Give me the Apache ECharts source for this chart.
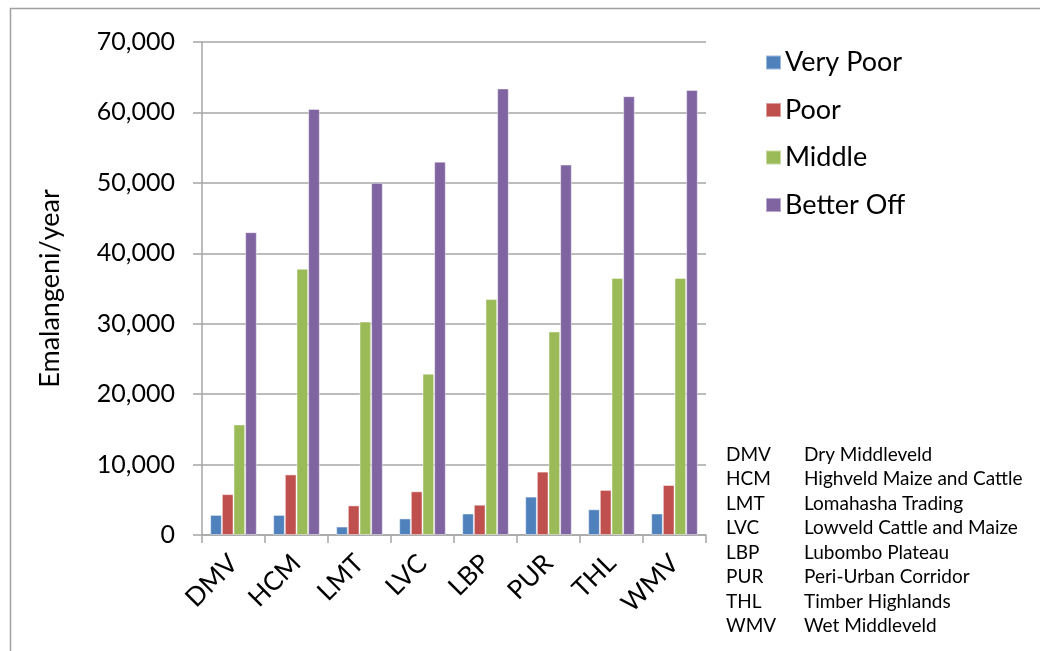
<!DOCTYPE html>
<html lang="en">
<head>
	<meta charset="UTF-8">
	<title>Emalangeni/year by livelihood zone</title>
	<style>
		body, div {
			margin: 0;
			padding: 0;
		}
		#main {
			width: 1040px;
			height: 651px;
			background: #fff;
		}
	</style>
</head>
<body>
	<div id="main"></div>

	<script src="https://cdn.jsdelivr.net/npm/echarts@6/dist/echarts.min.js"></script>

	<script>
    // zones on the x axis
    var zones = ['DMV', 'HCM', 'LMT', 'LVC', 'LBP', 'PUR', 'THL', 'WMV'];
    var zoneNames = ['Dry Middleveld', 'Highveld Maize and Cattle', 'Lomahasha Trading',
        'Lowveld Cattle and Maize', 'Lubombo Plateau', 'Peri-Urban Corridor',
        'Timber Highlands', 'Wet Middleveld'];

    // wealth groups
    var veryPoor  = [2850, 2850, 1200, 2350, 3050, 5450, 3650, 3050];
    var poor      = [5800, 8600, 4200, 6200, 4300, 9000, 6400, 7100];
    var middle    = [15700, 37800, 30300, 22900, 33500, 28900, 36500, 36500];
    var betterOff = [43000, 60500, 50000, 53000, 63400, 52600, 62300, 63200];

    var groups = ['Very Poor', 'Poor', 'Middle', 'Better Off'];
    var colors = ['#4F81BD', '#C0504D', '#9BBB59', '#8064A2'];
    var values = [veryPoor, poor, middle, betterOff];

    var font = 'Lato, "DejaVu Sans", sans-serif';
    var myEcharts = echarts.init(document.getElementById('main'));

    // abbreviation table bottom right
    var table = [];
    zones.forEach(function (z, i) {
        table.push({ type: 'text', left: 726, top: 445 + i * 24.5,
            style: { text: z, font: '19px ' + font, fill: '#000' } });
        table.push({ type: 'text', left: 804, top: 445 + i * 24.5,
            style: { text: zoneNames[i], font: '19px ' + font, fill: '#000' } });
    });

    var options = {
        backgroundColor: '#fff',
        color: colors,
        textStyle: { fontFamily: font },
        grid: { left: 202, right: 334, top: 42, bottom: 116, containLabel: false },
        legend: {
            orient: 'vertical',
            left: 760,
            top: 44,
            itemWidth: 15,
            itemHeight: 14,
            itemGap: 20.5,
            icon: 'rect',
            textStyle: { fontSize: 27, color: '#000', fontFamily: font, padding: [0, 0, 0, -1] },
            data: groups
        },
        xAxis: {
            type: 'category',
            data: zones,
            axisLine: { lineStyle: { color: '#a6a6a6', width: 1.5 } },
            axisTick: { show: true, length: 8, lineStyle: { color: '#a6a6a6', width: 1.5 } },
            axisLabel: { rotate: 45, fontSize: 26, color: '#000', margin: 24, fontFamily: font }
        },
        yAxis: {
            type: 'value',
            min: 0,
            max: 70000,
            interval: 10000,
            name: 'Emalangeni/year',
            nameLocation: 'middle',
            nameGap: 138,
            nameTextStyle: { fontSize: 27, color: '#000', fontFamily: font },
            axisLine: { show: true, lineStyle: { color: '#a6a6a6', width: 1.5 } },
            axisTick: { show: true, length: 9, lineStyle: { color: '#a6a6a6', width: 1.5 } },
            splitLine: { lineStyle: { color: '#a6a6a6', width: 1.5 } },
            axisLabel: {
                fontSize: 25, color: '#000', margin: 27, fontFamily: font,
                formatter: function (v) { return v.toLocaleString('en-US'); }
            }
        },
        graphic: [{
            type: 'rect',
            shape: { x: 10.5, y: 8.5, width: 1100, height: 700 },
            style: { fill: 'none', stroke: '#a0a0a0', lineWidth: 1.5 },
            silent: true
        }].concat(table),
        series: groups.map(function (g, i) {
            return {
                name: g,
                type: 'bar',
                data: values[i],
                barGap: '0%',
                barCategoryGap: '26%',
                itemStyle: { borderColor: 'rgba(255,255,255,0.45)', borderWidth: 1 }
            };
        })
    };

    myEcharts.setOption(options);
	</script>

</body>
</html>
